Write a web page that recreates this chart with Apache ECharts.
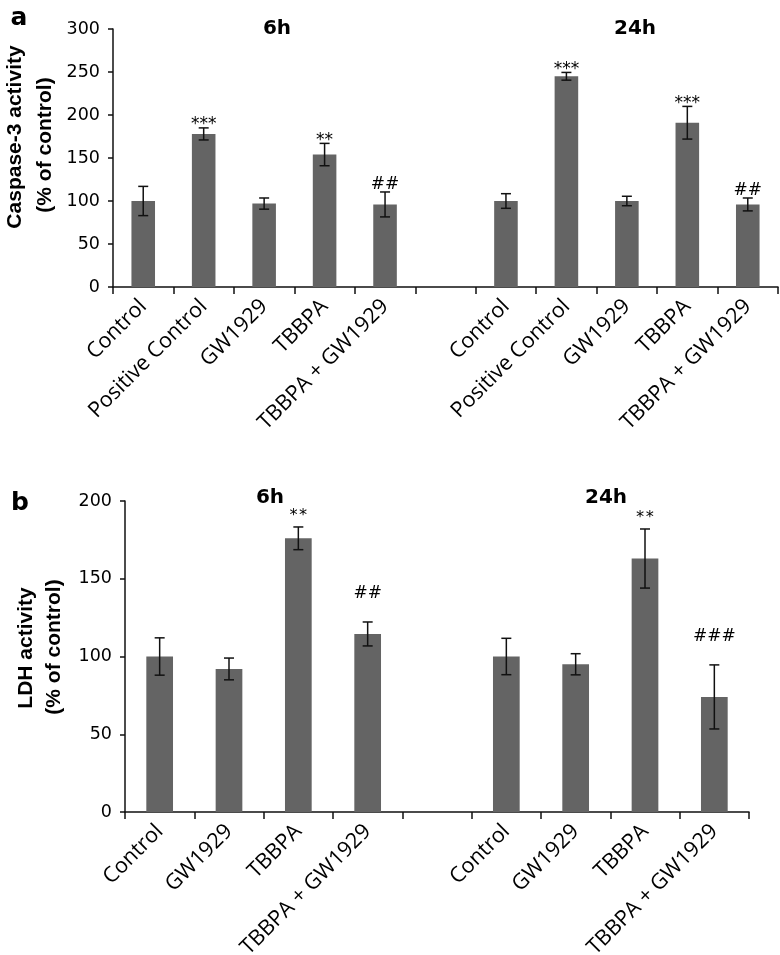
<!DOCTYPE html>
<html>
<head>
<meta charset="utf-8">
<script src="https://cdn.jsdelivr.net/npm/echarts@6/dist/echarts.min.js"></script>
<style>html,body{margin:0;padding:0;background:#fff}#c{width:780px;height:955px}</style>
</head>
<body>
<div id="c"></div>
<script>
// ---------- data (panel a: caspase-3) ----------
const caspCategories = ['Control', 'Positive Control', 'GW1929', 'TBBPA', 'TBBPA + GW1929', '',
                        'Control', 'Positive Control', 'GW1929', 'TBBPA', 'TBBPA + GW1929'];
const caspMean = [100, 178, 97, 154, 96, null, 100, 245, 100, 191, 96];
const caspErr  = [17, 7, 6.5, 13, 14.5, null, 8.5, 4.5, 5.5, 19, 7.5];
const caspSig  = ['', '***', '', '**', '##', '', '', '***', '', '***', '##'];
const caspTicks = [0, 50, 100, 150, 200, 250, 300];

// ---------- data (panel b: LDH) ----------
const ldhCategories = ['Control', 'GW1929', 'TBBPA', 'TBBPA + GW1929', '',
                       'Control', 'GW1929', 'TBBPA', 'TBBPA + GW1929'];
const ldhMean = [100, 92, 176, 114.5, null, 100, 95, 163, 74];
const ldhErr  = [12, 7, 7.3, 7.7, null, 11.7, 6.8, 19, 20.6];
const ldhSig  = ['', '', '**', '##', '', '', '', '**', '###'];
const ldhTicks = [0, 50, 100, 150, 200];

const timeLabels = ['6h', '24h'];
const panelLetters = ['a', 'b'];
const yNamesA = ['Caspase-3 activity', '(% of control)'];
const yNamesB = ['LDH activity', '(% of control)'];

// ---------- helpers ----------
const BAR = '#646464';
const INK = '#111';

function errData(mean, err) {
  return mean.map((m, i) => m == null ? [i, '-', '-'] : [i, m, err[i]]);
}
function barData(mean) { return mean.map(m => m == null ? '-' : m); }

function errRender(params, api) {
  const m = api.value(1), e = api.value(2);
  if (isNaN(m) || isNaN(e)) return null;
  const i = api.value(0);
  const t = api.coord([i, m + e]);
  const b = api.coord([i, m - e]);
  const hw = 5;
  const st = {stroke: INK, lineWidth: 1.5};
  return {type: 'group', children: [
    {type: 'line', shape: {x1: t[0], y1: t[1], x2: b[0], y2: b[1]}, style: st},
    {type: 'line', shape: {x1: t[0] - hw, y1: t[1], x2: t[0] + hw, y2: t[1]}, style: st},
    {type: 'line', shape: {x1: b[0] - hw, y1: b[1], x2: b[0] + hw, y2: b[1]}, style: st}
  ]};
}

function sigRender(labels, cfg) {
  return function (params, api) {
    const lab = labels[params.dataIndex];
    if (!lab) return null;
    const m = api.value(1), e = api.value(2);
    const p = api.coord([api.value(0), m + e]);
    const isHash = lab.indexOf('#') >= 0;
    const off = isHash ? cfg.hashOff : cfg.starOff;
    return {type: 'text', x: p[0], y: p[1] + off, style: {
      text: lab, fill: '#000',
      font: isHash ? cfg.hashFont : cfg.starFont,
      align: 'center', verticalAlign: 'middle',
      textAlign: 'center', textVerticalAlign: 'middle'
    }};
  };
}

function catAxis(gridIndex, cats) {
  return {
    type: 'category', gridIndex, data: cats, boundaryGap: true,
    axisLine: {lineStyle: {color: INK, width: 1.5}},
    axisTick: {show: true, length: 7, inside: false, alignWithLabel: false, lineStyle: {color: INK, width: 1.5}},
    axisLabel: {interval: 0, rotate: 45, margin: 16, color: '#000',
      fontFamily: 'Open Sans', fontSize: 21.5},
    splitLine: {show: false}
  };
}
function valAxis(gridIndex, ticks) {
  return {
    type: 'value', gridIndex, min: ticks[0], max: ticks[ticks.length - 1],
    interval: ticks[1] - ticks[0],
    axisLine: {show: true, lineStyle: {color: INK, width: 1.5}},
    axisTick: {show: true, length: 5, lineStyle: {color: INK, width: 1.5}},
    axisLabel: {margin: 13, color: '#000', fontFamily: 'DejaVu Sans', fontSize: 17.5},
    splitLine: {show: false}
  };
}

const titleFont = 'bold 20px "DejaVu Sans"';
const letterFont = 'bold 25px "DejaVu Sans"';
const yNameFont = 'bold 21px "Liberation Sans"';

function gtext(txt, x, y, font, rot) {
  return {type: 'text', x, y, rotation: rot || 0, silent: true,
    style: {text: txt, font, fill: '#000', align: 'center', verticalAlign: 'middle'}};
}

const option = {
  animation: false,
  backgroundColor: '#fff',
  grid: [
    {left: 113, top: 29, width: 665, height: 258, containLabel: false, outerBoundsMode: 'none'},
    {left: 125, top: 501, width: 624, height: 311, containLabel: false, outerBoundsMode: 'none'}
  ],
  xAxis: [catAxis(0, caspCategories), catAxis(1, ldhCategories)],
  yAxis: [valAxis(0, caspTicks), valAxis(1, ldhTicks)],
  series: [
    {type: 'bar', xAxisIndex: 0, yAxisIndex: 0, data: barData(caspMean), barWidth: '39%',
      itemStyle: {color: BAR}, silent: true},
    {type: 'custom', xAxisIndex: 0, yAxisIndex: 0, data: errData(caspMean, caspErr),
      encode: {x: 0, y: 1}, renderItem: errRender, silent: true, z: 3},
    {type: 'custom', xAxisIndex: 0, yAxisIndex: 0, data: errData(caspMean, caspErr),
      encode: {x: 0, y: 1}, silent: true, z: 4,
      renderItem: sigRender(caspSig, {starOff: -3, hashOff: -7,
        starFont: '17px "DejaVu Sans"', hashFont: '17px "DejaVu Sans"'})},

    {type: 'bar', xAxisIndex: 1, yAxisIndex: 1, data: barData(ldhMean), barWidth: '38.5%',
      itemStyle: {color: BAR}, silent: true},
    {type: 'custom', xAxisIndex: 1, yAxisIndex: 1, data: errData(ldhMean, ldhErr),
      encode: {x: 0, y: 1}, renderItem: errRender, silent: true, z: 3},
    {type: 'custom', xAxisIndex: 1, yAxisIndex: 1, data: errData(ldhMean, ldhErr),
      encode: {x: 0, y: 1}, silent: true, z: 4,
      renderItem: sigRender(ldhSig, {starOff: -11, hashOff: -28,
        starFont: '16px "DejaVu Sans Mono"', hashFont: '17px "DejaVu Sans"'})}
  ],
  graphic: [
    gtext(panelLetters[0], 19, 18, letterFont),
    gtext(panelLetters[1], 20, 503, letterFont),
    gtext(timeLabels[0], 277, 29, titleFont),
    gtext(timeLabels[1], 635, 29, titleFont),
    gtext(timeLabels[0], 270, 498, titleFont),
    gtext(timeLabels[1], 606, 498, titleFont),
    gtext(yNamesA[0], 15, 137, yNameFont, Math.PI / 2),
    gtext(yNamesA[1], 45, 145, yNameFont, Math.PI / 2),
    gtext(yNamesB[0], 26, 648, yNameFont, Math.PI / 2),
    gtext(yNamesB[1], 54, 647, yNameFont, Math.PI / 2)
  ]
};

const chart = echarts.init(document.getElementById('c'), null, {renderer: 'canvas'});
chart.setOption(option);
</script>
</body>
</html>
